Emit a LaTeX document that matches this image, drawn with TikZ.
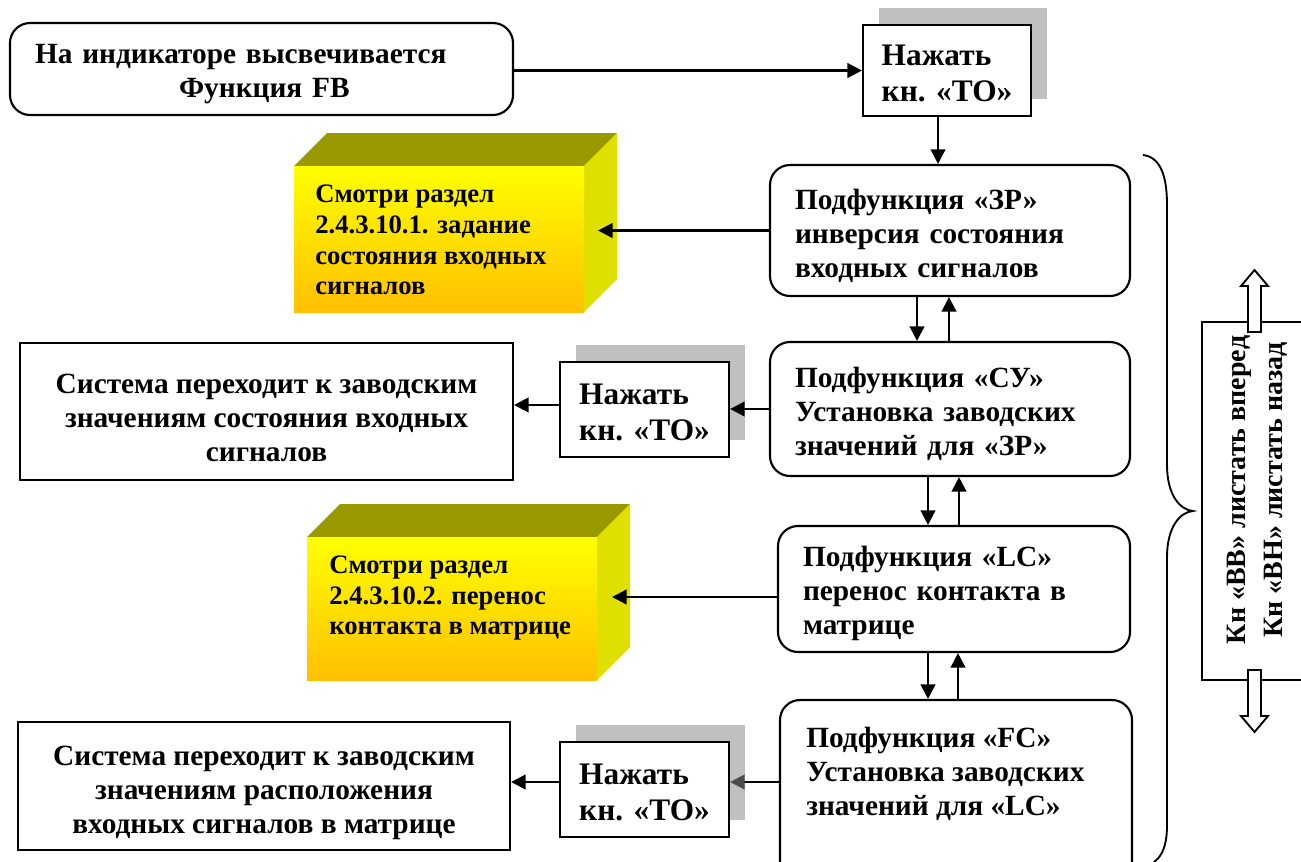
\documentclass[tikz,border=0pt]{standalone}
\usepackage{fontspec}
\setmainfont{Liberation Serif}
\usetikzlibrary{arrows.meta,shadows,calc}
\definecolor{shgray}{RGB}{192,192,192}
\definecolor{olivetop}{RGB}{153,153,0}
\definecolor{sideyel}{RGB}{224,224,0}
\definecolor{orangey}{RGB}{255,192,0}
\definecolor{yelmid}{RGB}{255,236,0}
\newcommand{\tstr}[1]{\rule{0pt}{#1}}
\begin{document}
\begin{tikzpicture}[x=0.75pt,y=-0.75pt,
  every node/.style={font=\bfseries},
  box/.style={draw, line width=1.6pt, inner sep=0pt, fill=white},
  rbox/.style={box, rounded corners=15pt},
  padded/.style={inner xsep=18.75pt, inner ysep=0pt, align=left},
  mainfont/.style={font=\fontsize{22pt}{25.5pt}\selectfont\bfseries},
  tofont/.style={font=\fontsize{23.5pt}{26.5pt}\selectfont\bfseries},
  yfont/.style={font=\fontsize{20pt}{23pt}\selectfont\bfseries},
  rfont/.style={font=\fontsize{21pt}{28pt}\selectfont\bfseries},
  tobtn/.style={box, tofont, align=left, minimum width=126.75pt, minimum height=71.25pt,
    general shadow={fill=shgray, shadow xshift=12pt, shadow yshift=12.75pt}},
  arr/.style={line width=1.8pt, -{Triangle[length=11pt,width=11pt]}},
  grayarr/.style={line width=1.8pt, -{Triangle[length=11pt,width=11pt,color=black!70,fill=black!70]}},
  thin/.style={line width=1.4pt},
]
\useasboundingbox (0,0) rectangle (1301,861);
\clip (0,0) rectangle (1301,861);

% yellow 3D boxes
\fill[olivetop] (294,166) -- (327,133) -- (617,133) -- (584,166) -- cycle;
\fill[sideyel] (584,166) -- (617,133) -- (617,279) -- (584,312) -- cycle;
\shade[top color=yellow, middle color=yelmid, bottom color=orangey] (294,166) rectangle (584,312);
\node[yfont, align=left, anchor=west, inner sep=0pt] (y1) at (315,240)
  {Смотри раздел\\2.4.3.10.1. задание\\состояния входных\\сигналов};
\coordinate (y1in) at (598,230.5);

\fill[olivetop] (307,537) -- (340,504) -- (630,504) -- (597,537) -- cycle;
\fill[sideyel] (597,537) -- (630,504) -- (630,647) -- (597,680) -- cycle;
\shade[top color=yellow, middle color=yelmid, bottom color=orangey] (307,537) rectangle (597,680);
\node[yfont, align=left, anchor=west, inner sep=0pt] (y2) at (329,598)
  {Смотри раздел\\2.4.3.10.2. перенос\\контакта в матрице};
\coordinate (y2in) at (612,597);

% main nodes
\node[rbox, mainfont, padded, text width=339.75pt, minimum height=69pt] (fb) at (261.5,69)
  {\tstr{22pt}На индикаторе высвечивается\\\hspace*{108pt}Функция FB};
\node[tobtn, minimum width=126pt, minimum height=68.25pt] (to1) at (947,70.5) {\tstr{20pt}Нажать\\кн. «ТО»};
\node[rbox, mainfont, padded, text width=232.5pt, minimum height=98.25pt] (zr) at (950,230.5)
  {\tstr{23pt}Подфункция «ЗР»\\инверсия состояния\\входных сигналов};
\node[rbox, mainfont, padded, text width=232.5pt, minimum height=100.5pt] (su) at (950,409)
  {\tstr{23pt}Подфункция «СУ»\\Установка заводских\\значений для «ЗР»};
\node[rbox, mainfont, padded, text width=226.5pt, minimum height=94.5pt] (lc) at (954,589)
  {\tstr{22pt}Подфункция «LC»\\перенос контакта в\\матрице};
\node[rbox, minimum width=264pt, minimum height=142.5pt] (fc) at (956,795) {};
\node[mainfont, align=left, anchor=north west, inner sep=0pt] (fct) at (806,727)
  {Подфункция «FC»\\Установка заводских\\значений для «LC»};
\node[tobtn] (to2) at (644.5,409.5) {\tstr{20pt}Нажать\\кн. «ТО»};
\node[tobtn] (to3) at (644.5,789.5) {\tstr{20pt}Нажать\\кн. «ТО»};
\node[box, mainfont, align=center, minimum width=369.75pt, minimum height=102.75pt] (sys1) at (266.5,411.5)
  {\tstr{24pt}Система переходит к заводским\\значениям состояния входных\\сигналов};
\node[box, mainfont, align=center, minimum width=369pt, minimum height=96pt] (sys2) at (264,786)
  {\tstr{25pt}Система переходит к заводским\\значениям расположения\\входных сигналов в матрице};

% connectors
\draw[arr] (fb.east |- to1.west) -- (to1.west);
\draw[arr] (938,0 |- to1.south) -- (938,0 |- zr.north);
\draw[arr] (zr.west) -- (y1in);
\draw[arr] (917,0 |- zr.south) -- (917,0 |- su.north);
\draw[arr] (949,0 |- su.north) -- (949,0 |- zr.south);
\draw[arr] (su.west) -- (su.west -| to2.east);
\draw[arr] (to2.west |- 0,405) -- (sys1.east |- 0,405);
\draw[arr] (928,0 |- su.south) -- (928,0 |- lc.north);
\draw[arr] (959,0 |- lc.north) -- (959,0 |- su.south);
\draw[arr] (lc.west |- y2in) -- (y2in);
\draw[arr] (928,0 |- lc.south) -- (928,0 |- fc.north);
\draw[arr] (958,0 |- fc.north) -- (958,0 |- lc.south);
\draw[grayarr] (fc.west |- 0,782) -- (to3.east |- 0,782);
\draw[arr] (to3.west |- 0,782) -- (sys2.east |- 0,782);

% brace
\draw[thin] (1143,155) .. controls (1160,157) and (1167,175) .. (1167,205)
  -- (1167,465) .. controls (1167,495) and (1180,510) .. (1193,511)
  .. controls (1180,512) and (1167,527) .. (1167,557)
  -- (1167,825) .. controls (1167,850) and (1160,862) .. (1143,868);

% key box
\draw[thin] (1310,322) -- (1202,322) -- (1202,680) -- (1310,680);
\draw[thin, fill=white] (1248,332) -- (1248,286) -- (1241,286) -- (1254.5,270) -- (1268,286) -- (1261,286) -- (1261,332) -- cycle;
\draw[thin, fill=white] (1248,670) -- (1248,716) -- (1241,716) -- (1254.5,732) -- (1268,716) -- (1261,716) -- (1261,670) -- cycle;
\node[rfont, rotate=90, align=center] (kn) at (1257,490)
  {Кн «ВВ» листать вперед\\Кн «ВН» листать назад};
\end{tikzpicture}
\end{document}
